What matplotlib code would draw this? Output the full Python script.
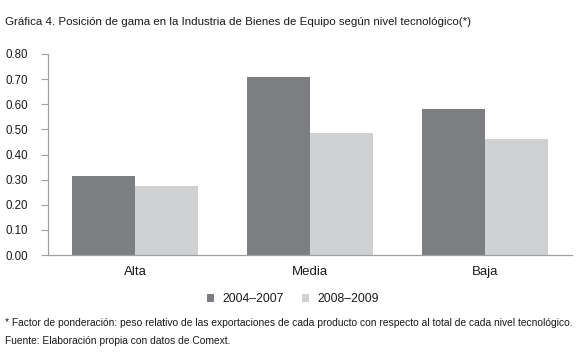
import matplotlib
matplotlib.use("Agg")
import matplotlib.pyplot as plt
import numpy as np
from matplotlib import font_manager

fams = {f.name for f in font_manager.fontManager.ttflist}
FONT = "Liberation Sans Narrow" if "Liberation Sans Narrow" in fams else (
    "Liberation Sans" if "Liberation Sans" in fams else "DejaVu Sans")
plt.rcParams['font.family'] = [FONT, 'DejaVu Sans']

categories = ["Alta", "Media", "Baja"]
series_names = ["2004–2007", "2008–2009"]
values_2004_2007 = [0.315, 0.71, 0.58]
values_2008_2009 = [0.275, 0.485, 0.46]
yticks = [0.0, 0.1, 0.2, 0.3, 0.4, 0.5, 0.6, 0.7, 0.8]
title = "Gráfica 4. Posición de gama en la Industria de Bienes de Equipo según nivel tecnológico(*)"
note1 = "* Factor de ponderación: peso relativo de las exportaciones de cada producto con respecto al total de cada nivel tecnológico."
note2 = "Fuente: Elaboración propia con datos de Comext."

dark = "#7d7e82"
light = "#d0d1d3"
txt = "#1a1a1a"
axc = "#a0a0a0"

W, H = 579, 361
fig = plt.figure(figsize=(W/100, H/100), dpi=100)
ax = fig.add_axes([48/W, 1-255/H, (572-48)/W, (255-54)/H])

x = np.arange(len(categories))
w = 0.36
ax.bar(x - w/2, values_2004_2007, width=w, color=dark, label=series_names[0])
ax.bar(x + w/2, values_2008_2009, width=w, color=light, label=series_names[1])

ax.set_xlim(-0.5, 2.5)
ax.set_ylim(0, 0.8)
ax.set_yticks(yticks)
ax.set_yticklabels([f"{v:.2f}" for v in yticks], fontsize=8.3, color=txt)
ax.set_xticks(x)
ax.set_xticklabels(categories, fontsize=9.5, color=txt)
ax.tick_params(axis='x', length=0, pad=8)
ax.tick_params(axis='y', length=5, width=0.8, color=axc, pad=9.5, direction='out')
for s in ['top', 'right']:
    ax.spines[s].set_visible(False)
for s in ['left', 'bottom']:
    ax.spines[s].set_color(axc)
    ax.spines[s].set_linewidth(0.9)

renderer = fig.canvas.get_renderer()

def fit_text(xpx, ypx, s, target_w, size0):
    t = fig.text(xpx/W, 1-ypx/H, s, fontsize=size0, color=txt, va='center', ha='left')
    wpx = t.get_window_extent(renderer).width
    t.set_fontsize(size0 * target_w / wpx)
    return t

fit_text(5, 22, title, 461, 11)
t1 = fit_text(5, 323, note1, 568, 9)
fig.text(5/W, 1-341/H, note2, fontsize=t1.get_fontsize(), color=txt, va='center', ha='left')

leg = fig.legend(loc='center', bbox_to_anchor=(293/W, 1-299/H), ncol=2, frameon=False,
                 fontsize=8.8, handlelength=0.6, handleheight=0.6, handletextpad=0.65,
                 columnspacing=1.5, labelcolor=txt)

fig.savefig("out.png", dpi=100)
